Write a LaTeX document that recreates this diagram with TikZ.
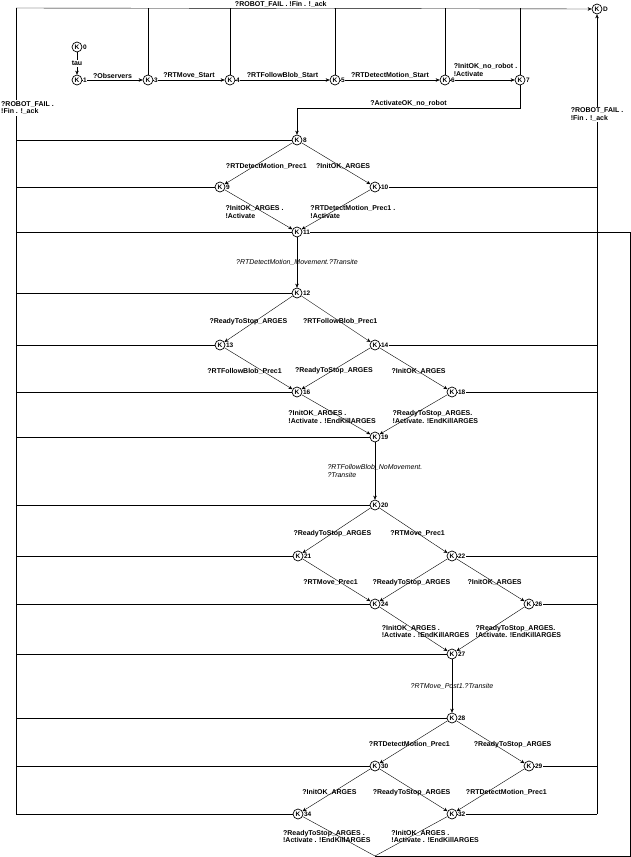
\documentclass[tikz,border=0pt]{standalone}
\usepackage{fontspec}
\setmainfont{Liberation Sans}
\usetikzlibrary{arrows.meta}
\pgfdeclarelayer{bg}
\pgfsetlayers{bg,main}

\begin{document}
\begin{tikzpicture}[x=1pt, y=-1pt, line width=0.7pt, >={Stealth[length=4pt,width=3.5pt]},
        num/.style={font=\fontsize{6.5}{6.5}\selectfont\bfseries, inner sep=0.4pt, fill=white},
        st/.style={draw, circle, inner sep=0pt, minimum size=10pt, font=\fontsize{6.5}{6.5}\selectfont\bfseries, label={[num]right:#1}},
        lbl/.style={font=\fontsize{7}{7.5}\selectfont\bfseries, inner sep=1pt, align=left},
        dl/.style={lbl, pos=0.56},
        trn/.style={font=\fontsize{7}{7.5}\selectfont\itshape, inner sep=1pt, align=left}]
            \useasboundingbox (0,0) rectangle (631,857);

            \node[st=0] (k0) at (77,47) {K};
            \node[st=1] (k1) at (77,80) {K};
            \node[st=3] (k3) at (148,80) {K};
            \node[st=4] (k4) at (230,80) {K};
            \node[st=5] (k5) at (335,80) {K};
            \node[st=6] (k6) at (445,80) {K};
            \node[st=7] (k7) at (520,80) {K};
            \node[st=D] (kf) at (597,9) {K};

            \node[st=8] (k8) at (297,140) {K};
            \node[st=9] (k9) at (220,187) {K};
            \node[st=10] (k10) at (375,187) {K};
            \node[st=11] (k11) at (297,232) {K};

            \node[st=12] (k12) at (297,293) {K};
            \node[st=13] (k13) at (220,345) {K};
            \node[st=14] (k14) at (375,345) {K};
            \node[st=16] (k16) at (297,392) {K};
            \node[st=18] (k18) at (452,392) {K};
            \node[st=19] (k19) at (375,437) {K};

            \node[st=20] (k20) at (375,505) {K};
            \node[st=21] (k21) at (298,556) {K};
            \node[st=22] (k22) at (452,556) {K};
            \node[st=24] (k24) at (375,604) {K};
            \node[st=26] (k26) at (529,604) {K};
            \node[st=27] (k27) at (452,654) {K};

            \node[st=28] (k28) at (452,718) {K};
            \node[st=30] (k30) at (375,766) {K};
            \node[st=29] (k29) at (529,766) {K};
            \node[st=34] (k34) at (298,814) {K};
            \node[st=32] (k32) at (452,814) {K};

            \coordinate (tl) at (16,8);
            \coordinate (bl) at (16,814);
            \coordinate (br) at (597,814);
            \coordinate (bm) at (375,856);
            \coordinate (ob) at (630,856);
            \coordinate (k7d) at (520,108);

            \begin{pgfonlayer}{bg}
            \draw (bl) -- node[lbl, fill=white, pos=0.876, anchor=west, xshift=-16pt] {?ROBOT\_FAIL .\\!Fin . !\_ack} (tl);
            \draw[->] (tl) -- node[lbl, above, pos=0.46] {?ROBOT\_FAIL . !Fin . !\_ack} (kf);
            \draw[->] (br) -- node[lbl, fill=white, pos=0.875] {?ROBOT\_FAIL .\\!Fin . !\_ack} (kf);

            \draw (k3) -- (k3 |- tl);
            \draw (k4) -- (k4 |- tl);
            \draw (k5) -- (k5 |- tl);
            \draw (k6) -- (k6 |- tl);
            \draw (k7) -- (k7 |- tl);

            \draw (k8) -- (k8 -| tl);
            \draw (k9) -- (k9 -| tl);
            \draw (k11) -- (k11 -| tl);
            \draw (k12) -- (k12 -| tl);
            \draw (k13) -- (k13 -| tl);
            \draw (k16) -- (k16 -| tl);
            \draw (k19) -- (k19 -| tl);
            \draw (k20) -- (k20 -| tl);
            \draw (k21) -- (k21 -| tl);
            \draw (k24) -- (k24 -| tl);
            \draw (k27) -- (k27 -| tl);
            \draw (k28) -- (k28 -| tl);
            \draw (k30) -- (k30 -| tl);
            \draw (k34) -- (k34 -| tl);

            \draw (k10) -- (k10 -| kf);
            \draw (k14) -- (k14 -| kf);
            \draw (k18) -- (k18 -| kf);
            \draw (k22) -- (k22 -| kf);
            \draw (k26) -- (k26 -| kf);
            \draw (k29) -- (k29 -| kf);
            \draw (k32) -- (k32 -| kf);

            \draw[->] (k0) -- node[lbl, fill=white] {tau} (k1);
            \draw[->] (k1) -- node[lbl, above] {?Observers} (k3);
            \draw[->] (k3) -- node[lbl, above] {?RTMove\_Start} (k4);
            \draw[->] (k4) -- node[lbl, above] {?RTFollowBlob\_Start} (k5);
            \draw[->] (k5) -- node[lbl, above] {?RTDetectMotion\_Start} (k6);
            \draw[->] (k6) -- node[lbl, above, yshift=2.5pt, xshift=3pt] {?InitOK\_no\_robot .\\!Activate} (k7);
            \draw[->] (k7) -- (k7d) -- node[lbl, above] {?ActivateOK\_no\_robot} (k7d -| k8) -- (k8);

            \draw[->] (k8) -- node[dl, xshift=12pt] {?RTDetectMotion\_Prec1} (k9);
            \draw[->] (k8) -- node[dl, xshift=3pt] {?InitOK\_ARGES} (k10);
            \draw[->] (k9) -- node[dl, xshift=-8pt] {?InitOK\_ARGES .\\!Activate} (k11);
            \draw[->] (k10) -- node[dl, xshift=21pt] {?RTDetectMotion\_Prec1 .\\!Activate} (k11);
            \draw[->] (k11) -- node[trn] {?RTDetectMotion\_Movement.?Transite} (k12);

            \draw[->] (k12) -- node[dl, xshift=-6pt] {?ReadyToStop\_ARGES} (k13);
            \draw[->] (k12) -- node[dl] {?RTFollowBlob\_Prec1} (k14);
            \draw[->] (k13) -- node[dl, xshift=-18pt] {?RTFollowBlob\_Prec1} (k16);
            \draw[->] (k14) -- node[dl, xshift=2pt] {?ReadyToStop\_ARGES} (k16);
            \draw[->] (k14) -- node[dl, xshift=1pt] {?InitOK\_ARGES} (k18);
            \draw[->] (k16) -- node[dl, xshift=-8pt] {?InitOK\_ARGES .\\!Activate . !EndKillARGES} (k19);
            \draw[->] (k18) -- node[dl, xshift=26pt] {?ReadyToStop\_ARGES.\\!Activate. !EndKillARGES} (k19);
            \draw[->] (k19) -- node[trn] {?RTFollowBlob\_NoMovement.\\?Transite} (k20);

            \draw[->] (k20) -- node[dl] {?ReadyToStop\_ARGES} (k21);
            \draw[->] (k20) -- node[dl] {?RTMove\_Prec1} (k22);
            \draw[->] (k21) -- node[dl, xshift=-10pt] {?RTMove\_Prec1} (k24);
            \draw[->] (k22) -- node[dl, xshift=2pt] {?ReadyToStop\_ARGES} (k24);
            \draw[->] (k22) -- node[dl] {?InitOK\_ARGES} (k26);
            \draw[->] (k24) -- node[dl, xshift=8pt] {?InitOK\_ARGES .\\!Activate . !EndKillARGES} (k27);
            \draw[->] (k26) -- node[dl, xshift=32pt] {?ReadyToStop\_ARGES.\\!Activate. !EndKillARGES} (k27);
            \draw[->] (k27) -- node[trn] {?RTMove\_Post1.?Transite} (k28);

            \draw[->] (k28) -- node[dl] {?RTDetectMotion\_Prec1} (k30);
            \draw[->] (k28) -- node[dl, xshift=18pt] {?ReadyToStop\_ARGES} (k29);
            \draw[->] (k30) -- node[dl, xshift=-3pt] {?InitOK\_ARGES} (k34);
            \draw[->] (k30) -- node[dl, xshift=-6pt] {?ReadyToStop\_ARGES} (k32);
            \draw[->] (k29) -- node[dl, xshift=20pt] {?RTDetectMotion\_Prec1} (k32);
            \draw (k34) -- node[lbl, pos=0.5, xshift=-12pt] {?ReadyToStop\_ARGES .\\!Activate . !EndKillARGES} (bm);
            \draw (k32) -- node[lbl, pos=0.5, xshift=24pt] {?InitOK\_ARGES .\\!Activate . !EndKillARGES} (bm);
            \draw[->] (bm) -- (ob) |- (k11);
            \end{pgfonlayer}
        \end{tikzpicture}
\end{document}
